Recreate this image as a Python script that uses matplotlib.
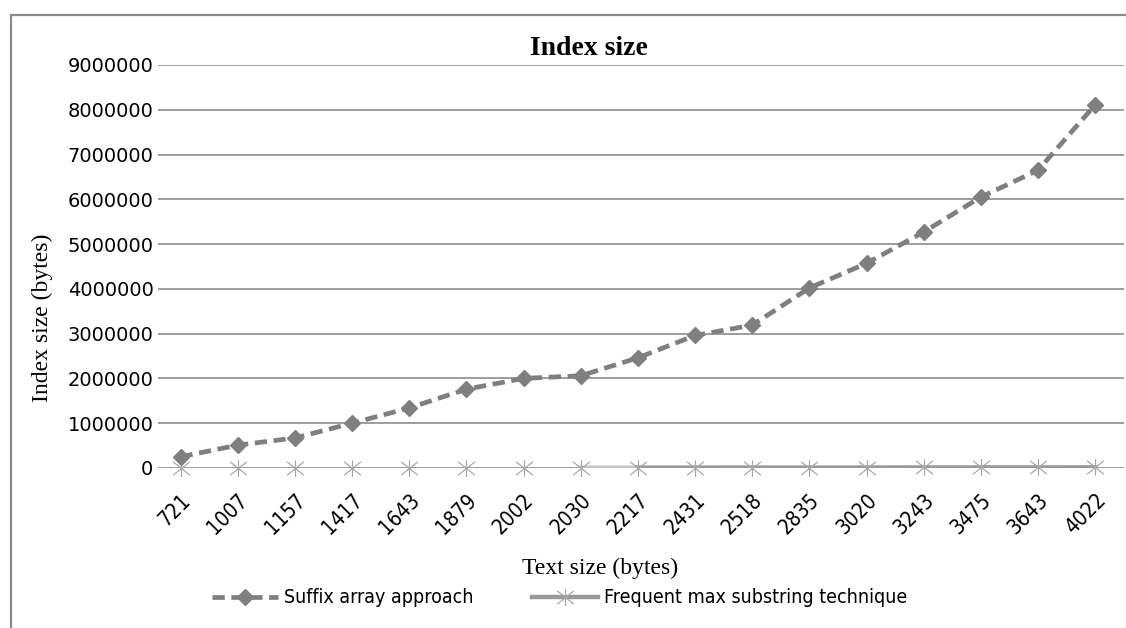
import matplotlib
matplotlib.use("Agg")
import matplotlib.pyplot as plt
from matplotlib.patches import Rectangle
from matplotlib.path import Path

text_sizes = ["721", "1007", "1157", "1417", "1643", "1879", "2002", "2030", "2217",
              "2431", "2518", "2835", "3020", "3243", "3475", "3643", "4022"]
suffix_array = [250000, 510000, 670000, 1000000, 1340000, 1760000, 2000000, 2060000,
                2460000, 2960000, 3190000, 4020000, 4570000, 5270000, 6050000, 6650000,
                8110000]
frequent_max = [3000, 4000, 4500, 5000, 5500, 6000, 6500, 7000, 7500, 8000, 8500,
                9500, 10000, 11000, 12000, 12500, 13500]
y_ticks = [0, 1000000, 2000000, 3000000, 4000000, 5000000, 6000000, 7000000, 8000000,
           9000000]

serif = ["Liberation Serif", "DejaVu Serif"]
sans = ["DejaVu Sans"]

# asterisk: vertical stroke plus an X
star = Path([(0, -1), (0, 1), (-1, -0.8), (1, 0.8), (-1, 0.8), (1, -0.8)],
            [Path.MOVETO, Path.LINETO, Path.MOVETO, Path.LINETO, Path.MOVETO, Path.LINETO])

fig = plt.figure(figsize=(11.26, 6.28), dpi=100)
ax = fig.add_axes([0.140, 0.2548, 0.858, 0.6417])

# outer frame
fig.patches.append(Rectangle((11 / 1126, -0.05), 1.2, 1 - 15 / 628 + 0.05,
                             transform=fig.transFigure, fill=False,
                             edgecolor="#8a8a8a", linewidth=1.6))

x = list(range(len(text_sizes)))

ax.plot(x, suffix_array, color="#7f7f7f", linestyle=(0, (2.6, 1.4)), linewidth=3.4,
        marker="D", markersize=8.5, markerfacecolor="#7f7f7f",
        markeredgecolor="#7f7f7f", label="Suffix array approach", zorder=4,
        clip_on=False)

# second series: markers everywhere, line visible from 2030 on
ax.plot(x[7:9], frequent_max[7:9], color="#c4c4c4", linewidth=3.2, zorder=3)
ax.plot(x[8:], frequent_max[8:], color="#999999", linewidth=3.2, zorder=3)
ax.plot(x, frequent_max, color="#999999", linewidth=0, marker=star,
        markersize=12, markeredgewidth=0.9, markeredgecolor="#a8a8a8", zorder=3,
        clip_on=False)
ax.plot([], [], color="#999999", linewidth=3.2, marker=star, markersize=12,
        markeredgewidth=0.9, markeredgecolor="#a8a8a8",
        label="Frequent max substring technique")

ax.set_xlim(-0.4, 16.5)
ax.set_ylim(0, 9000000)
ax.set_yticks(y_ticks)
ax.set_yticklabels([str(v) for v in y_ticks], family=sans, fontsize=14)
ax.set_xticks(x)
ax.set_xticklabels(text_sizes, rotation=45, ha="right", rotation_mode="anchor",
                   family=sans, fontsize=15, fontstretch="condensed")
ax.tick_params(length=0, pad=3)
ax.tick_params(axis="x", pad=16)
ax.grid(axis="y", color="#8c8c8c", linewidth=1.2)
ax.set_axisbelow(True)
for side in ["top", "right", "left", "bottom"]:
    ax.spines[side].set_visible(False)

ax.set_title("Index size", family=serif, fontsize=20, fontweight="bold", pad=7, x=0.446)
ax.set_ylabel("Index size (bytes)", family=serif, fontsize=17)
ax.yaxis.set_label_coords(-0.108, 0.372)
ax.set_xlabel("Text size (bytes)", family=serif, fontsize=17)
ax.xaxis.set_label_coords(0.458, -0.222)

ax.legend(loc="center", bbox_to_anchor=(0.416, -0.3226), ncol=2, frameon=False,
          prop={"family": sans, "size": 14, "stretch": "condensed"},
          handlelength=3.4, handletextpad=0.3, columnspacing=3.0)

fig.savefig("out.png", dpi=100)
